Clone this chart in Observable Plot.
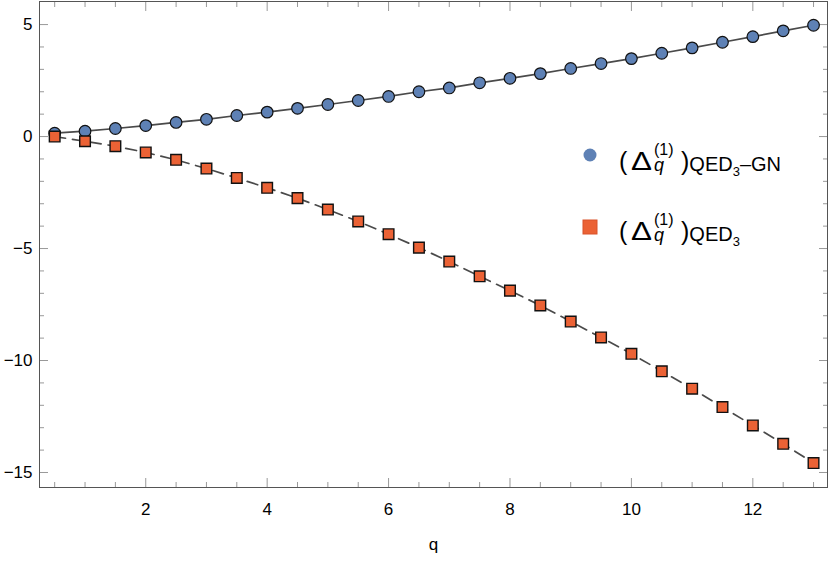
<!DOCTYPE html>
<html><head><meta charset="utf-8">
<script src="https://cdn.jsdelivr.net/npm/d3@7"></script>
<script src="https://cdn.jsdelivr.net/npm/@observablehq/plot@0.6"></script>
<style>
body{margin:0;background:#fff}
#chart{width:830px;height:562px}
</style>
</head><body><div id="chart"></div>
<script>
const qValues = [0.5,1,1.5,2,2.5,3,3.5,4,4.5,5,5.5,6,6.5,7,7.5,8,8.5,9,9.5,10,10.5,11,11.5,12,12.5,13];
const gnValues = [0.15,0.24,0.36,0.49,0.63,0.77,0.94,1.09,1.26,1.43,1.61,1.79,2.0,2.17,2.40,2.60,2.81,3.04,3.26,3.48,3.72,3.96,4.21,4.46,4.72,4.97];
const qedValues = [0.0,-0.21,-0.43,-0.71,-1.04,-1.43,-1.85,-2.29,-2.75,-3.26,-3.79,-4.36,-4.96,-5.58,-6.24,-6.88,-7.54,-8.26,-8.97,-9.70,-10.48,-11.26,-12.08,-12.90,-13.72,-14.58];
const xMajorTicks = [2,4,6,8,10,12];
const xMinorTicks = [0.5,1,1.5,2.5,3,3.5,4.5,5,5.5,6.5,7,7.5,8.5,9,9.5,10.5,11,11.5,12.5,13];
const yMajorTicks = [-15,-10,-5,0,5];
const yMinorTicks = [-14,-13,-12,-11,-9,-8,-7,-6,-4,-3,-2,-1,1,2,3,4];
const xLabel = "q";

const gnData = qValues.map((q,i)=>({q, v: gnValues[i]}));
const qedData = qValues.map((q,i)=>({q, v: qedValues[i]}));

const font = "'Liberation Sans', Arial, Helvetica, sans-serif";
const tickColor = "#999";
const noText = () => "";

const chart = Plot.plot({
  width: 830,
  height: 562,
  marginLeft: 39,
  marginRight: 3,
  marginTop: 1,
  marginBottom: 75,
  style: {fontFamily: font, fontSize: "17px", background: "#fff"},
  x: {domain: [0.25, 13.23]},
  y: {domain: [-15.67, 6.03]},
  marks: [
    Plot.axisX(xMajorTicks, {anchor: "bottom", tickSize: -9, tickPadding: 24, stroke: tickColor, fill: "#000", fontSize: 17, label: null}),
    Plot.axisX(xMinorTicks, {anchor: "bottom", tickSize: -5, stroke: tickColor, tickFormat: noText, label: null}),
    Plot.axisX(xMajorTicks, {anchor: "top", tickSize: -9, stroke: tickColor, tickFormat: noText, label: null}),
    Plot.axisX(xMinorTicks, {anchor: "top", tickSize: -5, stroke: tickColor, tickFormat: noText, label: null}),
    Plot.axisY(yMajorTicks, {anchor: "left", tickSize: -9, tickPadding: 16, stroke: tickColor, fill: "#000", fontSize: 17, label: null}),
    Plot.axisY(yMinorTicks, {anchor: "left", tickSize: -5, stroke: tickColor, tickFormat: noText, label: null}),
    Plot.axisY(yMajorTicks, {anchor: "right", tickSize: -9, stroke: tickColor, tickFormat: noText, label: null}),
    Plot.axisY(yMinorTicks, {anchor: "right", tickSize: -5, stroke: tickColor, tickFormat: noText, label: null}),
    Plot.frame({stroke: "#555", strokeWidth: 1}),
    Plot.line(gnData, {x: "q", y: "v", stroke: "#4a4a4a", strokeWidth: 1.7}),
    Plot.line(qedData, {x: "q", y: "v", stroke: "#4a4a4a", strokeWidth: 1.7, strokeDasharray: "11,7"}),
    Plot.dot(gnData, {x: "q", y: "v", r: 5.8, fill: "#5E81B5", stroke: "#111", strokeWidth: 1.2, symbol: "circle"}),
    Plot.dot(qedData, {x: "q", y: "v", r: 6, fill: "#EB6235", stroke: "#111", strokeWidth: 1.4, symbol: "square"}),
    Plot.text([xLabel], {frameAnchor: "bottom", text: d => d, dy: 62, fontSize: 17, fill: "#000"})
  ]
});
document.getElementById("chart").appendChild(chart);

// force tick-label and axis-label size
d3.select(chart).selectAll("text").style("font-size", "17px").style("font-family", font);

// Legend (inside plot area, upper right)
const svg = d3.select(chart);
const leg = svg.append("g").attr("font-family", font).attr("fill", "#000").attr("text-anchor", "start");
function entry(g, baseline, withGN) {
  const t = g.append("text").attr("text-anchor", "start");
  t.append("tspan").attr("x", 619).attr("y", baseline).attr("font-size", 25).text("(");
  t.append("tspan").attr("x", 631).attr("y", baseline).attr("font-size", 25)
    .attr("textLength", 21).attr("lengthAdjust", "spacingAndGlyphs").text("Δ");
  t.append("tspan").attr("x", 654).attr("y", baseline - 15).attr("font-size", 16).text("(1)");
  t.append("tspan").attr("x", 654).attr("y", baseline + 1).attr("font-size", 18).attr("font-style", "italic").text("q");
  t.append("tspan").attr("x", 681).attr("y", baseline).attr("font-size", 25).text(")");
  t.append("tspan").attr("y", baseline + 1).attr("font-size", 20).text("QED");
  t.append("tspan").attr("y", baseline + 6).attr("font-size", 13).text("3");
  if (withGN) t.append("tspan").attr("y", baseline + 1).attr("font-size", 20).text("–GN");
}
leg.append("circle").attr("cx", 590).attr("cy", 155).attr("r", 6.5).attr("fill", "#5E81B5");
entry(leg, 170, true);
leg.append("rect").attr("x", 583).attr("y", 220).attr("width", 14).attr("height", 14)
  .attr("fill", "#EB6235").attr("stroke", "#D9532A").attr("stroke-width", 1);
entry(leg, 240, false);
</script>
</body></html>
